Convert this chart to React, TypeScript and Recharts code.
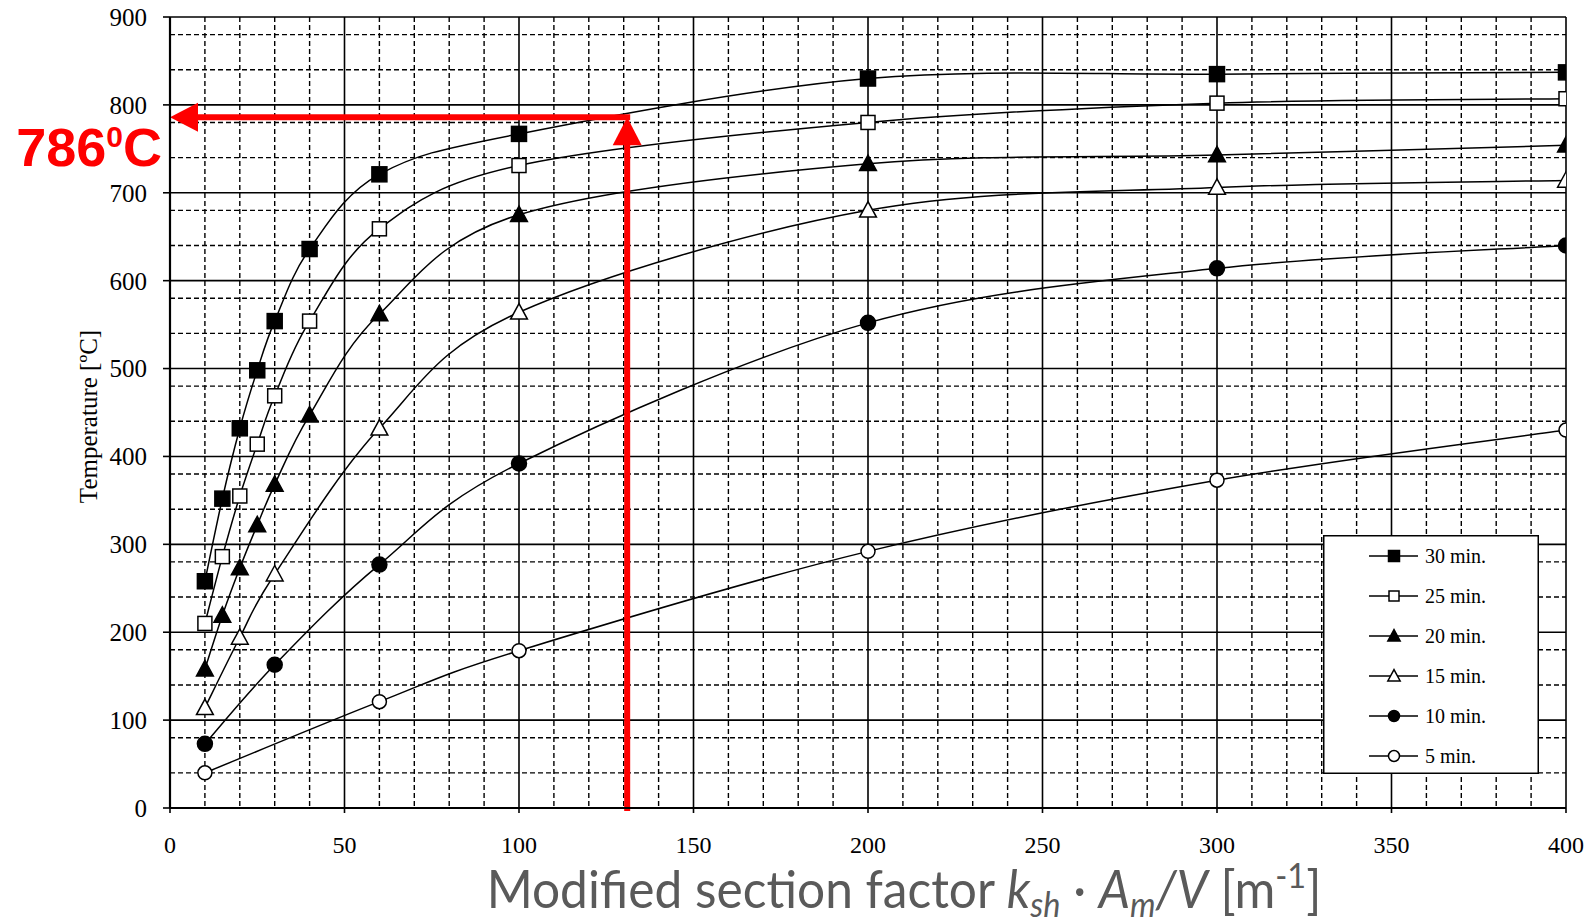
import React from 'react';
import {
  LineChart,
  Line,
  XAxis,
  YAxis,
  CartesianGrid,
  ReferenceLine,
  ReferenceDot,
  Legend,
} from 'recharts';

// Section factor values (m^-1) at which each curve was evaluated
const sf30 = [10, 15, 20, 25, 30, 40, 60, 100, 200, 300, 400];
const sf25 = [10, 15, 20, 25, 30, 40, 60, 100, 200, 300, 400];
const sf20 = [10, 15, 20, 25, 30, 40, 60, 100, 200, 300, 400];
const sf15 = [10, 20, 30, 60, 100, 200, 300, 400];
const sf10 = [10, 30, 60, 100, 200, 300, 400];
const sf5 = [10, 60, 100, 200, 300, 400];

// Steel temperature (°C) after the given fire exposure time
const temp30 = [258, 352, 432, 498, 554, 636, 721, 767, 830, 835, 837];
const temp25 = [210, 286, 355, 414, 469, 554, 659, 731, 780, 802, 807];
const temp20 = [158, 219, 273, 322, 368, 447, 562, 675, 733, 743, 754];
const temp15 = [114, 194, 266, 432, 564, 680, 706, 714];
const temp10 = [73, 163, 277, 392, 552, 614, 640];
const temp5 = [40, 121, 179, 292, 373, 430];

const seriesNames = ['30 min.', '25 min.', '20 min.', '15 min.', '10 min.', '5 min.'];

// Axis ticks and grid lines
const xTicks = [0, 50, 100, 150, 200, 250, 300, 350, 400];
const yTicks = [0, 100, 200, 300, 400, 500, 600, 700, 800, 900];
const xMinor = Array.from({ length: 41 }, (_, i) => i * 10).filter((v) => v % 50 !== 0);
const yMinor = Array.from({ length: 46 }, (_, i) => i * 20).filter((v) => v % 100 !== 0);

// Reading example: section factor 131 m^-1 at 30 minutes
const readSF = 131;
const readTemp = 786;

const RED = '#fe0000';

type MarkerKind = 'sqFill' | 'sqOpen' | 'triFill' | 'triOpen' | 'cirFill' | 'cirOpen';

const seriesDefs: { name: string; xs: number[]; ys: number[]; marker: MarkerKind }[] = [
  { name: seriesNames[0], xs: sf30, ys: temp30, marker: 'sqFill' },
  { name: seriesNames[1], xs: sf25, ys: temp25, marker: 'sqOpen' },
  { name: seriesNames[2], xs: sf20, ys: temp20, marker: 'triFill' },
  { name: seriesNames[3], xs: sf15, ys: temp15, marker: 'triOpen' },
  { name: seriesNames[4], xs: sf10, ys: temp10, marker: 'cirFill' },
  { name: seriesNames[5], xs: sf5, ys: temp5, marker: 'cirOpen' },
];

// Spreadsheet-style smoothed line: cubic Bezier segments whose control
// points follow the neighbouring points (Catmull-Rom, 1/6 tangents).
function smoothCurve(context: any) {
  let pts: [number, number][] = [];
  return {
    areaStart() {},
    areaEnd() {},
    lineStart() {
      pts = [];
    },
    point(x: number, y: number) {
      pts.push([+x, +y]);
    },
    lineEnd() {
      const n = pts.length;
      if (!n) return;
      context.moveTo(pts[0][0], pts[0][1]);
      for (let i = 0; i < n - 1; i++) {
        const p0 = pts[Math.max(0, i - 1)];
        const p1 = pts[i];
        const p2 = pts[i + 1];
        const p3 = pts[Math.min(n - 1, i + 2)];
        const c1x = p1[0] + (p2[0] - p0[0]) / 6;
        const c1y = p1[1] + (p2[1] - p0[1]) / 6;
        const c2x = p2[0] - (p3[0] - p1[0]) / 6;
        const c2y = p2[1] - (p3[1] - p1[1]) / 6;
        context.bezierCurveTo(c1x, c1y, c2x, c2y, p2[0], p2[1]);
      }
    },
  };
}

function Marker({ kind, cx, cy, s }: { kind: MarkerKind; cx: number; cy: number; s: number }) {
  const fill = kind.endsWith('Fill') ? '#000' : '#fff';
  if (kind.startsWith('sq')) {
    const w = kind === 'sqFill' ? s : s - 1;
    return (
      <rect x={cx - w / 2} y={cy - w / 2} width={w} height={w} fill={fill} stroke="#000" strokeWidth={1.5} />
    );
  }
  if (kind.startsWith('tri')) {
    const h = s * 1.0;
    const pts = `${cx},${cy - h * 0.58} ${cx - s * 0.56},${cy + h * 0.45} ${cx + s * 0.56},${cy + h * 0.45}`;
    return <polygon points={pts} fill={fill} stroke="#000" strokeWidth={1.5} strokeLinejoin="miter" />;
  }
  return <circle cx={cx} cy={cy} r={s / 2} fill={fill} stroke="#000" strokeWidth={1.5} />;
}

function ArrowShape(props: any) {
  const { x1, y1, x2, y2 } = props;
  const head = 28;
  const half = 14.5;
  const dx = x2 - x1;
  const dy = y2 - y1;
  const len = Math.sqrt(dx * dx + dy * dy) || 1;
  const ux = dx / len;
  const uy = dy / len;
  // base of the arrowhead
  const bx = x2 - ux * head;
  const by = y2 - uy * head;
  // start slightly back so the two arrows join cleanly
  const sx = x1 - ux * 3;
  const sy = y1 - uy * 3;
  const px = -uy;
  const py = ux;
  return (
    <g>
      <line x1={sx} y1={sy} x2={bx + ux * 2} y2={by + uy * 2} stroke={RED} strokeWidth={6} />
      <polygon
        points={`${x2},${y2} ${bx + px * half},${by + py * half} ${bx - px * half},${by - py * half}`}
        fill={RED}
      />
    </g>
  );
}

function ReadingLabel(props: any) {
  const { cx, cy } = props;
  return (
    <text
      x={cx - 8}
      y={cy + 49}
      textAnchor="end"
      fontFamily="'Liberation Sans', Arial, sans-serif"
      fontWeight="bold"
      fontSize={54}
      fill={RED}
    >
      {String(readTemp)}
      <tspan fontSize={30} dy={-19}>0</tspan>
      <tspan dy={19}>C</tspan>
    </text>
  );
}

function LegendBox() {
  const w = 216;
  const h = 239;
  return (
    <svg width={w} height={h} style={{ display: 'block' }}>
      <rect x={0.75} y={0.75} width={w - 1.5} height={h - 1.5} fill="#fff" stroke="#000" strokeWidth={1.5} />
      {seriesDefs.map((s, i) => {
        const cy = 21 + i * 40;
        return (
          <g key={s.name}>
            <line x1={46} y1={cy} x2={95} y2={cy} stroke="#000" strokeWidth={1.5} />
            <Marker kind={s.marker} cx={71} cy={cy} s={11} />
            <text x={102} y={cy + 7} fontFamily="'Liberation Serif', 'Times New Roman', serif" fontSize={20} fill="#000">
              {s.name}
            </text>
          </g>
        );
      })}
    </svg>
  );
}

function XTitle(props: any) {
  const vb = props.viewBox || { x: 170, y: 808, width: 1396, height: 115 };
  const cx = vb.x + vb.width / 2 + 36;
  const y = vb.y + 100;
  const sub = 34;
  return (
    <g transform={`translate(${cx}, ${y}) scale(0.955, 1)`}>
      <text x={0} y={0} textAnchor="middle" fontFamily="Lato, 'Open Sans', sans-serif" fontSize={52} fill="#5a5a5a">
        {'Modified section factor '}
        <tspan fontStyle="italic">k</tspan>
        <tspan fontStyle="italic" fontSize={sub} dy={9}>sh</tspan>
        <tspan dy={-9}>{' · '}</tspan>
        <tspan fontStyle="italic">A</tspan>
        <tspan fontStyle="italic" fontSize={sub} dy={9}>m</tspan>
        <tspan fontStyle="italic" dy={-9}>/V</tspan>
        <tspan>{' [m'}</tspan>
        <tspan fontSize={sub} dy={-20}>-1</tspan>
        <tspan dy={20}>]</tspan>
      </text>
    </g>
  );
}

function YTitle(props: any) {
  const vb = props.viewBox || { x: 0, y: 17, width: 170, height: 791 };
  const cy = vb.y + vb.height / 2 + 4;
  const x = 97;
  return (
    <text
      x={x}
      y={cy}
      transform={`rotate(-90, ${x}, ${cy})`}
      textAnchor="middle"
      fontFamily="'Liberation Serif', 'Times New Roman', serif"
      fontSize={25}
      fill="#000"
    >
      Temperature [ºC]
    </text>
  );
}

export default function App() {
  const serif = "'Liberation Serif', 'Times New Roman', serif";
  return (
    <div style={{ position: 'absolute', left: 0, top: 0, width: 1592, height: 923, background: '#fff' }}>
      <LineChart width={1592} height={923} margin={{ top: 17, right: 26, bottom: 0, left: 0 }}>
        <CartesianGrid
          stroke="#000"
          strokeWidth={1.4}
          strokeDasharray="5 3"
          verticalValues={xMinor}
          horizontalValues={yMinor}
        />
        <CartesianGrid stroke="#000" strokeWidth={1.6} verticalValues={xTicks} horizontalValues={yTicks} />
        <XAxis
          type="number"
          dataKey="x"
          domain={[0, 400]}
          ticks={xTicks}
          allowDataOverflow
          height={115}
          tickSize={5}
          tickMargin={23}
          axisLine={{ stroke: '#000', strokeWidth: 2.2 }}
          tickLine={{ stroke: '#000', strokeWidth: 1.6 }}
          tick={{ fontFamily: serif, fontSize: 24, fill: '#000' }}
          label={<XTitle />}
        />
        <YAxis
          type="number"
          domain={[0, 900]}
          ticks={yTicks}
          allowDataOverflow
          width={170}
          tickSize={7}
          tickMargin={16}
          axisLine={{ stroke: '#000', strokeWidth: 2.2 }}
          tickLine={{ stroke: '#000', strokeWidth: 1.6 }}
          tick={{ fontFamily: serif, fontSize: 25, fill: '#000' }}
          label={<YTitle />}
        />
        <Legend
          layout="horizontal"
          verticalAlign="middle"
          align="center"
          wrapperStyle={{ position: 'absolute', left: 1323, top: 535, width: 216, height: 239 }}
          content={() => <LegendBox />}
        />
        {seriesDefs.map((s) => (
          <Line
            key={s.name}
            name={s.name}
            data={s.xs.map((x, i) => ({ x, y: s.ys[i] }))}
            dataKey="y"
            type={smoothCurve as any}
            stroke="#000"
            strokeWidth={1.5}
            isAnimationActive={false}
            dot={(p: any) => (
              <Marker key={`${s.name}-${p.index}`} kind={s.marker} cx={p.cx} cy={p.cy} s={s.marker === 'cirOpen' ? 14 : 15} />
            )}
            activeDot={false}
          />
        ))}
        <ReferenceLine
          segment={[
            { x: readSF, y: 0 },
            { x: readSF, y: readTemp },
          ]}
          ifOverflow="visible"
          shape={(p: any) => <ArrowShape {...p} />}
        />
        <ReferenceLine
          segment={[
            { x: readSF, y: readTemp },
            { x: 0, y: readTemp },
          ]}
          ifOverflow="visible"
          shape={(p: any) => <ArrowShape {...p} />}
        />
        <ReferenceDot x={0} y={readTemp} r={0} ifOverflow="visible" shape={(p: any) => <ReadingLabel {...p} />} />
      </LineChart>
    </div>
  );
}
